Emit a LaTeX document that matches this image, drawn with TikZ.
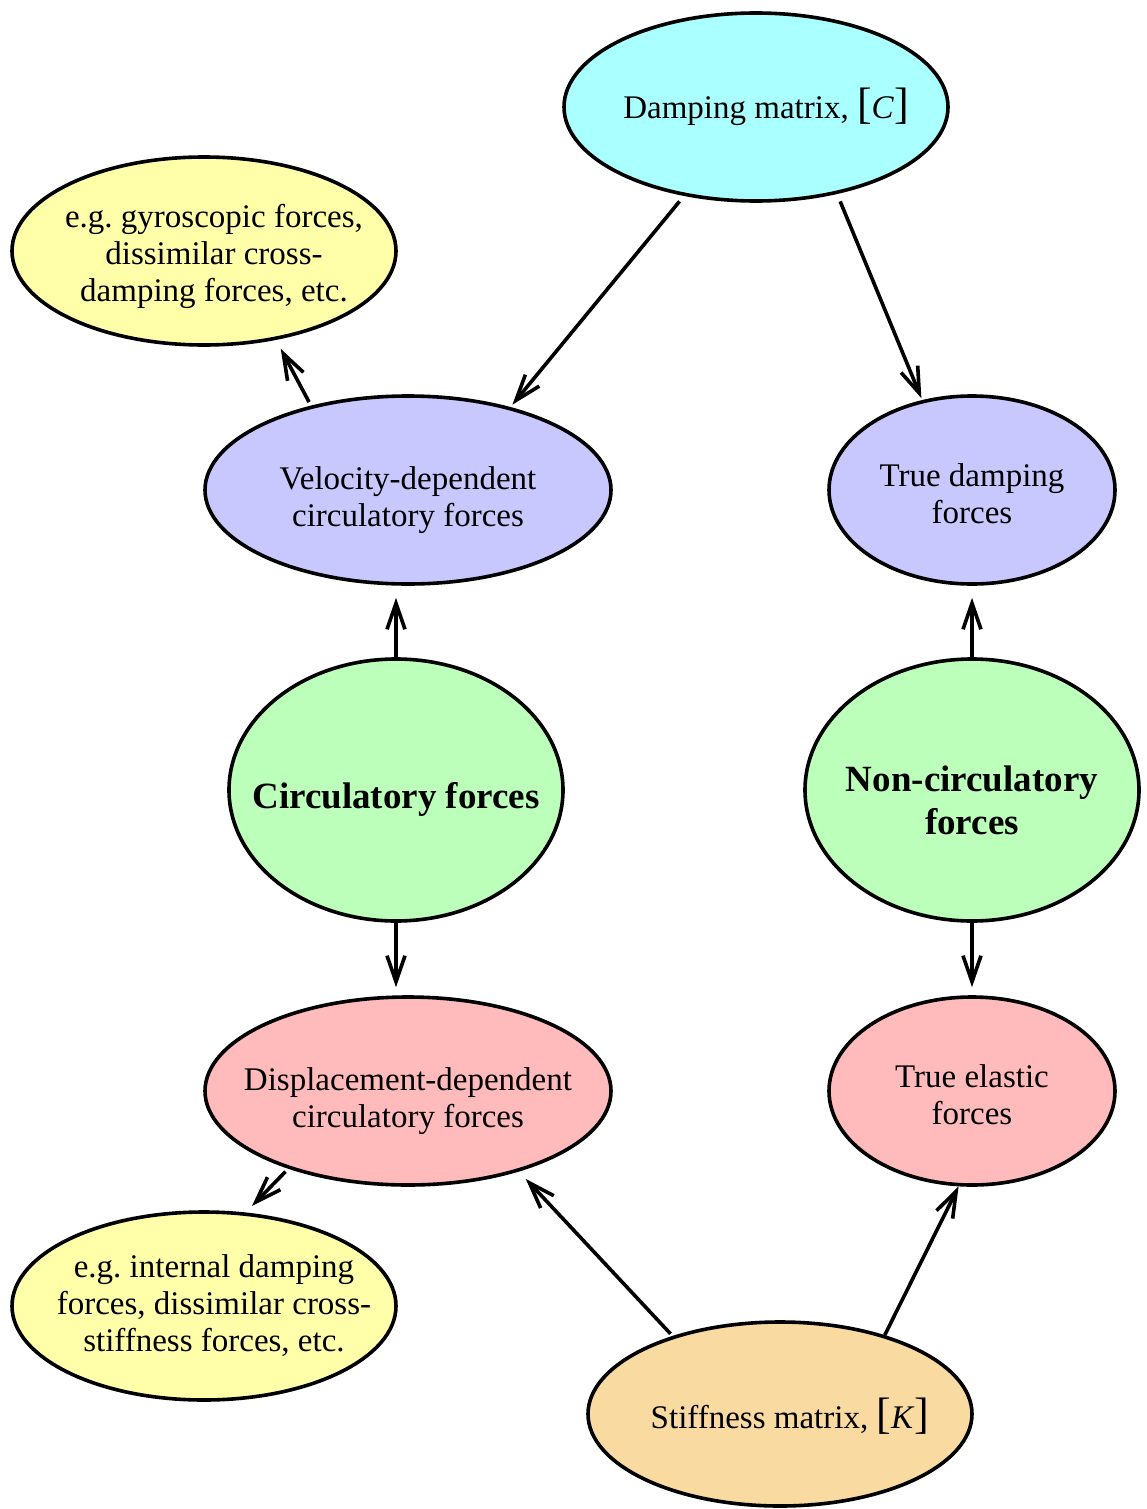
\documentclass[tikz,border=0pt]{standalone}
\usepackage{fontspec}
\setmainfont{Liberation Serif}
\usepackage{tikz}
\usetikzlibrary{arrows.meta, shapes.geometric}
\usepackage{xcolor}
\definecolor{cDamp}{HTML}{AAFFFF}
\definecolor{cNote}{HTML}{FFFFAA}
\definecolor{cVel}{HTML}{C8C8FF}
\definecolor{cForce}{HTML}{BBFFBB}
\definecolor{cDisp}{HTML}{FFBBBB}
\definecolor{cStiff}{HTML}{F9DBA1}
\newcommand{\mtxbr}[1]{{\fontsize{22}{22}\selectfont[}\textit{#1}\/{\fontsize{22}{22}\selectfont]}}
\frenchspacing

\begin{document}
\begin{tikzpicture}[x=0.5pt, y=-0.5pt,
    >={Straight Barb[length=13pt, width=9pt]},
    bubble/.style={
        ellipse, draw=black, fill=#1, line width=1.8pt,
        inner sep=0pt, minimum width=192pt, minimum height=94pt
    },
    txt/.style={font=\fontsize{16.5}{18.5}\selectfont, align=center, text=black},
    btxt/.style={font=\fontsize{18.5}{21.5}\selectfont\bfseries, align=center, text=black},
    arr/.style={->, line width=1.8pt, color=black},
]
\useasboundingbox (0,0) rectangle (1146,1509);

% Row 1 - Damping matrix and note
\node[bubble=cDamp,
      label={[txt, xshift=5pt]center:Damping matrix, \mtxbr{C}}] (dmp) at (756,107) {};
\node[bubble=cNote,
      label={[txt, xshift=5pt, yshift=-2.5pt]center:e.g. gyroscopic forces,\\dissimilar cross-\\damping forces, etc.}] (gyro) at (204,251) {};

% Row 2 - Velocity-dependent / true damping
\node[bubble=cVel, minimum width=203pt,
      label={[txt, yshift=-5pt]center:Velocity-dependent\\circulatory forces}] (vel) at (408,490) {};
\node[bubble=cVel, minimum width=143pt,
      label={[txt, yshift=-2pt]center:True damping\\forces}] (tdmp) at (972,490) {};

% Row 3 - Main force types
\node[bubble=cForce, minimum width=167pt, minimum height=131pt,
      label={[btxt, yshift=-4.5pt]center:Circulatory forces}] (circ) at (396,790) {};
\node[bubble=cForce, minimum width=167pt, minimum height=131pt,
      label={[btxt, yshift=-5pt]center:Non-circulatory\\forces}] (ncirc) at (972,790) {};

% Row 4 - Displacement-dependent / true elastic
\node[bubble=cDisp, minimum width=203pt,
      label={[txt, yshift=-5pt]center:Displacement-dependent\\circulatory forces}] (disp) at (408,1091) {};
\node[bubble=cDisp, minimum width=143pt,
      label={[txt, yshift=-2pt]center:True elastic\\forces}] (tel) at (972,1091) {};

% Row 5 - Note and stiffness matrix
\node[bubble=cNote,
      label={[txt, xshift=5pt]center:e.g. internal damping\\forces, dissimilar cross-\\stiffness forces, etc.}] (intl) at (204,1306) {};
\node[bubble=cStiff, minimum height=92pt,
      label={[txt, xshift=5pt, yshift=-1pt]center:Stiffness matrix, \mtxbr{K}}] (stf) at (780,1414) {};

% Arrows - damping matrix
\draw[arr, shorten <=3.5pt, shorten >=1.5pt] (dmp.231) -- (vel.39);
\draw[arr, shorten <=4pt, shorten >=1pt] (dmp.313) -- (tdmp.119.5);
\draw[arr, shorten <=2pt, shorten >=5pt] (vel.139) -- (gyro.309);

% Arrows - force types
\draw[arr, shorten >=6pt] (circ.north) -- (circ.north |- vel.south);
\draw[arr, shorten >=6pt] (ncirc.north) -- (ncirc.north |- tdmp.south);
\draw[arr, shorten >=4pt] (circ.south) -- (circ.south |- disp.north);
\draw[arr, shorten >=4pt] (ncirc.south) -- (ncirc.south |- tel.north);

% Arrows - stiffness matrix
\draw[arr, shorten <=2pt, shorten >=4.5pt] (disp.213) -- (intl.66);
\draw[arr, shorten <=1.5pt, shorten >=5pt] (stf.144) -- (disp.324);
\draw[arr] (stf.37) -- (tel.262);

\end{tikzpicture}
\end{document}
